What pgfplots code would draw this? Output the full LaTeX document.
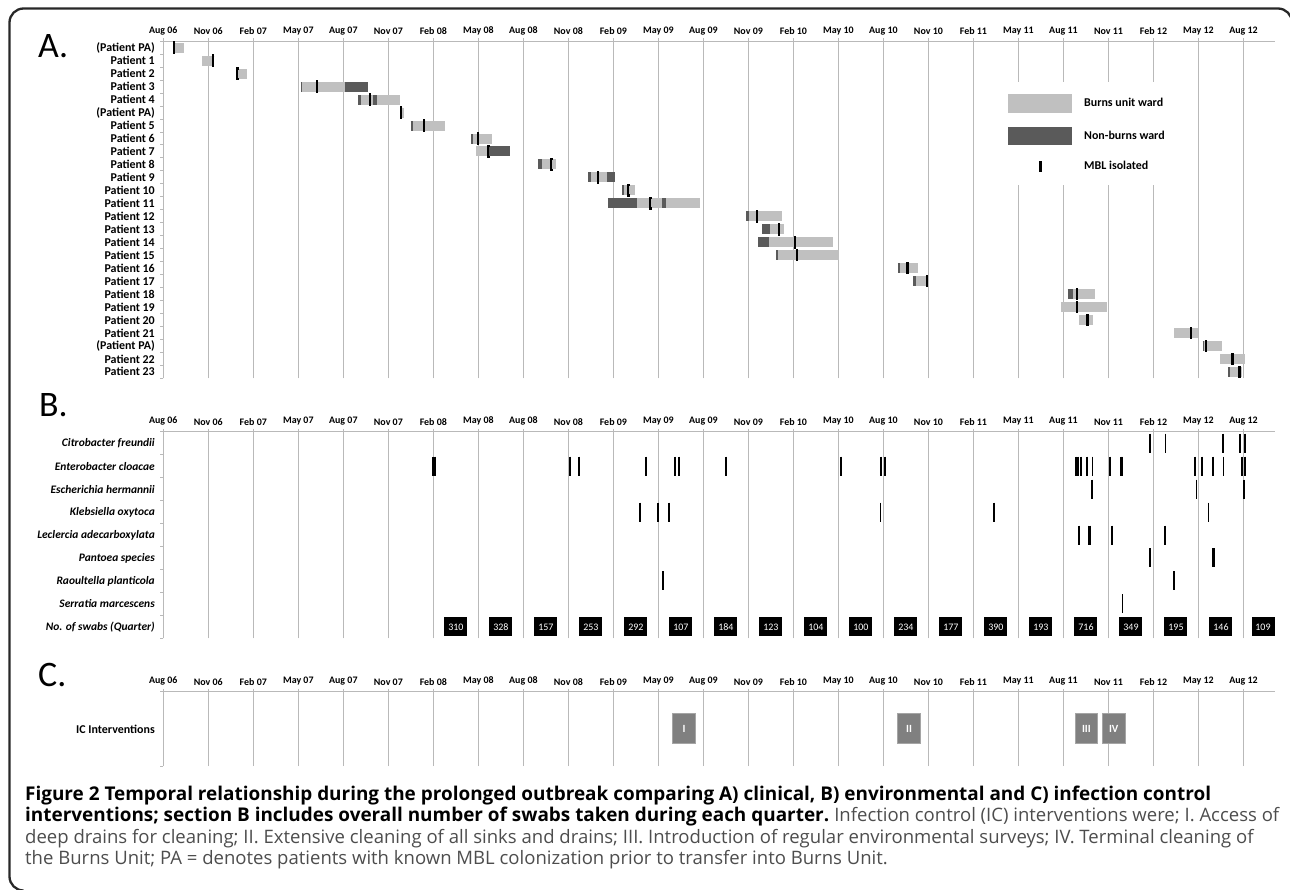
\documentclass[border=0pt]{standalone}
\usepackage{fontspec}
\setmainfont{Carlito}
\newfontfamily\capfont{Open Sans}
\usepackage{pgfplots}
\pgfplotsset{compat=1.18}

\definecolor{gridc}{RGB}{185,185,185}
\definecolor{burns}{RGB}{192,192,192}
\definecolor{nonburns}{RGB}{90,90,90}
\definecolor{icbox}{RGB}{128,128,128}
\definecolor{captext}{RGB}{77,77,77}
\definecolor{frame}{RGB}{40,40,40}

% MBL isolated marker, a thin bracket
\pgfdeclareplotmark{mbl}{%
  \pgfpathmoveto{\pgfqpoint{1.4bp}{5.2bp}}%
  \pgfpathlineto{\pgfqpoint{0bp}{5.2bp}}%
  \pgfpathlineto{\pgfqpoint{0bp}{-5.2bp}}%
  \pgfpathlineto{\pgfqpoint{1.4bp}{-5.2bp}}%
  \pgfusepathqstroke}

% x = months since Aug 06, rows counted downwards as -1, -2, ...
\pgfplotsset{
  timeline/.style={
    scale only axis, width=1111.7bp,
    xmin=0, xmax=74.1,
    axis x line*=top, axis y line*=left,
    axis line style={draw=gridc, line width=1.2bp},
    xtick={0,3,...,72},
    xticklabels={Aug 06,Nov 06,Feb 07,May 07,Aug 07,Nov 07,Feb 08,May 08,Aug 08,Nov 08,Feb 09,May 09,Aug 09,Nov 09,Feb 10,May 10,Aug 10,Nov 10,Feb 11,May 11,Aug 11,Nov 11,Feb 12,May 12,Aug 12},
    xticklabel style={font=\bfseries\fontsize{10}{12}\selectfont},
    xmajorgrids, grid style={draw=gridc, line width=1.2bp},
    tick align=outside, major tick length=3bp, minor tick length=3bp,
    major x tick style={draw=gridc, line width=1.2bp},
    major y tick style={draw=none},
    minor y tick style={draw=gridc, line width=1bp},
    yticklabel style={font=\bfseries\fontsize{12}{14}\selectfont, xshift=-2bp},
    clip=false,
  },
}

\begin{document}
\begin{tikzpicture}
\path[use as bounding box] (0,0) rectangle (1290bp,-890bp);

% ---------------- A ----------------
\begin{axis}[timeline, at={(163.3bp,-41.3bp)}, anchor=north west, height=337bp,
  ymin=-26.5, ymax=-0.5,
  ytick={-1,-2,...,-26}, minor ytick={-0.5,-1.5,...,-26.5},
  yticklabels={(Patient PA),Patient 1,Patient 2,Patient 3,Patient 4,(Patient PA),Patient 5,Patient 6,Patient 7,Patient 8,Patient 9,Patient 10,Patient 11,Patient 12,Patient 13,Patient 14,Patient 15,Patient 16,Patient 17,Patient 18,Patient 19,Patient 20,Patient 21,(Patient PA),Patient 22,Patient 23},
  legend style={at={(0.7526,0.8800)}, anchor=north west, draw=none, fill=white,
    inner xsep=8bp, inner ysep=12bp, row sep=13.8bp,
    font=\bfseries\fontsize{12}{14}\selectfont,
    /tikz/every odd column/.append style={column sep=10bp}},
  legend cell align=left]

% Burns unit ward
\addplot[quiver={u=\thisrow{x2}-\thisrow{x1},v=0}, color=burns, line width=10bp, -, no markers,
  legend image code/.code={\fill[burns] (0bp,-4.4bp) rectangle (54bp,4.4bp);}]
  table[x=x1,y=row] {
row x1 x2
-1 0.67 1.40
-2 2.60 3.33
-3 4.93 5.58
-4 9.25 12.11
-5 13.18 13.98
-5 14.25 15.78
-6 15.85 16.05
-7 16.65 18.78
-8 20.65 21.91
-9 20.85 21.71
-10 25.23 26.18
-11 28.51 29.56
-12 30.73 31.45
-13 31.58 33.27
-13 33.51 35.78
-14 39.07 41.23
-15 40.45 41.38
-16 40.40 44.67
-17 40.98 45.07
-18 49.11 50.31
-19 50.15 51.00
-20 60.63 62.11
-21 59.83 62.93
-22 61.05 61.96
-23 67.38 69.00
-24 69.38 70.56
-25 70.45 72.11
-26 71.11 71.89
};
\addlegendentry{Burns unit ward}

% Non-burns ward
\addplot[quiver={u=\thisrow{x2}-\thisrow{x1},v=0}, color=nonburns, line width=10bp, -, no markers,
  legend image code/.code={\fill[nonburns] (0bp,-4.4bp) rectangle (54bp,4.4bp);}]
  table[x=x1,y=row] {
row x1 x2
-4 9.16 9.25
-4 12.11 13.65
-5 13.00 13.18
-5 13.98 14.25
-7 16.49 16.65
-8 20.51 20.65
-9 21.71 23.13
-10 24.96 25.23
-11 28.33 28.51
-11 29.56 30.11
-12 30.60 30.73
-13 29.63 31.58
-13 33.27 33.51
-14 38.85 39.07
-15 39.93 40.45
-16 39.67 40.40
-17 40.85 40.98
-18 48.96 49.11
-19 50.00 50.15
-20 60.27 60.63
-24 69.27 69.38
-26 70.98 71.11
};
\addlegendentry{Non-burns ward}

% MBL isolated
\addplot[only marks, mark=mbl, mark options={line width=2.2bp, draw=black},
  legend image code/.code={\fill[black] (25.6bp,-5bp) rectangle (28.4bp,5bp);}]
  table[x=x,y=row] {
row x
-1 0.71
-2 3.31
-3 4.93
-4 10.23
-5 13.78
-6 15.85
-7 17.38
-8 20.98
-9 21.65
-10 25.85
-11 28.96
-12 31.00
-13 32.45
-14 39.56
-15 41.03
-16 42.11
-17 42.23
-18 49.60
-19 50.89
-20 60.89
-21 60.89
-22 61.60
-23 68.49
-24 69.49
-25 71.27
-26 71.73
};
\addlegendentry{MBL isolated}
\end{axis}

% ---------------- B ----------------
\begin{axis}[timeline, at={(163.3bp,-431.7bp)}, anchor=north west, height=206.6bp,
  ymin=-9.5, ymax=-0.5,
  ytick={-1,-2,...,-9}, minor ytick={-0.5,-1.5,...,-9.5},
  yticklabels={Citrobacter freundii,Enterobacter cloacae,Escherichia hermannii,Klebsiella oxytoca,Leclercia adecarboxylata,Pantoea species,Raoultella planticola,Serratia marcescens,No. of swabs (Quarter)},
  yticklabel style={font=\bfseries\itshape\fontsize{11.5}{13}\selectfont}]

\addplot[only marks, mark=|, mark size=9.5bp, mark options={line width=1.8bp, draw=black}]
  table[x=x,y=row] {
row x
-1 65.78
-1 66.80
-1 70.61
-1 71.78
-1 72.08
-2 17.95
-2 18.10
-2 27.11
-2 27.73
-2 32.17
-2 34.11
-2 34.38
-2 37.53
-2 45.18
-2 47.85
-2 48.11
-2 60.85
-2 60.98
-2 61.15
-2 61.58
-2 61.93
-2 63.09
-2 63.83
-2 63.91
-2 68.76
-2 69.26
-2 69.98
-2 70.67
-2 71.91
-2 72.08
-3 61.88
-3 68.87
-3 72.02
-4 31.78
-4 32.97
-4 33.71
-4 47.81
-4 55.35
-4 69.67
-5 61.05
-5 61.67
-5 61.76
-5 63.23
-5 66.77
-6 65.78
-6 69.93
-6 70.03
-7 33.33
-7 67.35
-8 63.93
};

% number of swabs per quarter
\addplot[draw=none, no markers, nodes near coords, point meta=explicit symbolic,
  nodes near coords align={center},
  every node near coord/.append style={fill=black, text=white, minimum width=23bp,
    minimum height=19bp, inner sep=0pt, text height=6.6bp, text depth=0bp,
    font=\fontsize{10}{12}\selectfont}]
  table[x=x,y=row,meta=n] {
x row n
19.5 -9 310
22.5 -9 328
25.5 -9 157
28.5 -9 253
31.5 -9 292
34.5 -9 107
37.5 -9 184
40.5 -9 123
43.5 -9 104
46.5 -9 100
49.5 -9 234
52.5 -9 177
55.5 -9 390
58.5 -9 193
61.5 -9 716
64.5 -9 349
67.5 -9 195
70.5 -9 146
73.3 -9 109
};
\end{axis}

% ---------------- C ----------------
\begin{axis}[timeline, at={(163.3bp,-691.7bp)}, anchor=north west, height=74.3bp,
  ymin=-1.5, ymax=-0.5,
  ytick={-1}, minor ytick={-0.5,-1.5},
  yticklabels={IC Interventions}]
\addplot[draw=none, no markers, nodes near coords, point meta=explicit symbolic,
  nodes near coords align={center},
  every node near coord/.append style={fill=icbox, draw={rgb,255:red,165;green,165;blue,165},
    line width=0.8bp, text=white, minimum width=22.5bp, minimum height=30bp,
    inner sep=0pt, font=\bfseries\fontsize{11}{13}\selectfont}]
  table[x=x,y=row,meta=n] {
x row n
34.71 -1 I
49.71 -1 II
61.53 -1 III
63.35 -1 IV
};
\end{axis}

% panel letters
\node[anchor=base west, inner sep=0, font=\fontsize{36}{36}\selectfont] at (38bp,-57.3bp) {A.};
\node[anchor=base west, inner sep=0, font=\fontsize{36}{36}\selectfont] at (39bp,-416bp) {B.};
\node[anchor=base west, inner sep=0, font=\fontsize{36}{36}\selectfont] at (38bp,-686.7bp) {C.};

% caption
\newcommand{\capbold}{\capfont\bfseries\fontsize{19}{22}\selectfont}
\newcommand{\capbody}{\capfont\mdseries\fontsize{18.6}{22}\selectfont\color{captext}}
\begin{scope}[every node/.style={anchor=base west, inner sep=0}]
\node at (25bp,-800bp) {\capbold Figure 2 Temporal relationship during the prolonged outbreak comparing A) clinical, B) environmental and C) infection control};
\node at (25bp,-821.7bp) {{\capbold interventions; section B includes overall number of swabs taken during each quarter.}\hspace{5bp}{\capbody Infection control (IC) interventions were; I. Access of}};
\node at (25bp,-843.3bp) {\capbody deep drains for cleaning; II. Extensive cleaning of all sinks and drains; III. Introduction of regular environmental surveys; IV. Terminal cleaning of};
\node at (25bp,-864.7bp) {\capbody the Burns Unit; PA = denotes patients with known MBL colonization prior to transfer into Burns Unit.};
\end{scope}

% frame
\draw[draw=frame, line width=2.3bp, rounded corners=14bp]
  (1292bp,-40bp) -- (1292bp,-8.5bp) -- (9.5bp,-8.5bp) -- (9.5bp,-890.5bp) -- (23.5bp,-890.5bp);
\end{tikzpicture}
\end{document}
